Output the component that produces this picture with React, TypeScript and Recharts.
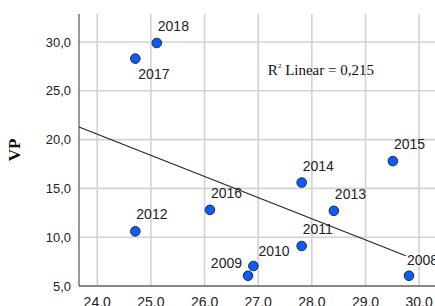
import React from "react";
import {
  ScatterChart,
  Scatter,
  XAxis,
  YAxis,
  CartesianGrid,
  ReferenceLine,
  ReferenceDot,
  LabelList,
} from "recharts";

// ---- data ----
const years = ["2008", "2009", "2010", "2011", "2012", "2013", "2014", "2015", "2016", "2017", "2018"];
const xValues = [29.81, 26.81, 26.91, 27.81, 24.71, 28.41, 27.81, 29.51, 26.1, 24.71, 25.11];
const vpValues = [6.05, 6.05, 7.05, 9.1, 10.6, 12.7, 15.6, 17.8, 12.8, 28.3, 29.9];
const xTicks = [24, 25, 26, 27, 28, 29, 30];
const yTicks = [5, 10, 15, 20, 25, 30];
const fitStart = { x: 23.66, y: 21.3 };
const fitEnd = { x: 29.75, y: 8.1 };
const rSquared = "0,215";
const rSquaredAnchor = { x: 27.18, y: 27.13 };

// label placement style (not data)
const labelPlacement: Record<string, { dx: number; dy: number; anchor: "start" | "end" }> = {
  "2008": { dx: -2, dy: -16, anchor: "start" },
  "2009": { dx: -6, dy: -13, anchor: "end" },
  "2010": { dx: 5, dy: -15, anchor: "start" },
  "2017": { dx: 3, dy: 15, anchor: "start" },
};
const defaultPlacement = { dx: 1, dy: -17, anchor: "start" as const };

const data = years.map((year, i) => ({ year, x: xValues[i], vp: vpValues[i] }));

const fmt = (v: number) => v.toFixed(1).replace(".", ",");

const Dot = (props: any) => {
  const { cx, cy } = props;
  return <circle cx={cx} cy={cy} r={4.8} fill="#0a5cff" stroke="#1b2a44" strokeWidth={1} />;
};

const PointLabel = (props: any) => {
  const { x, y, width, height, value } = props;
  const cx = x + (width || 0) / 2;
  const cy = y + (height || 0) / 2;
  const p = labelPlacement[value] || defaultPlacement;
  return (
    <text
      x={cx + p.dx}
      y={cy + p.dy}
      textAnchor={p.anchor}
      dominantBaseline="central"
      fontFamily="'Liberation Sans', Arial, sans-serif"
      fontSize={14}
      fill="#222"
    >
      {value}
    </text>
  );
};

const RText = (props: any) => {
  const { cx, cy } = props;
  return (
    <text x={cx} y={cy} dominantBaseline="central" fontFamily="'Liberation Serif', 'Times New Roman', serif" fontSize={15} fill="#111">
      R
      <tspan fontSize={7} dy={-4}>2</tspan>
      <tspan dy={4}>{" Linear = " + rSquared}</tspan>
    </text>
  );
};

export default function App() {
  return (
    <div style={{ position: "absolute", left: 0, top: 0, width: 435, height: 306, overflow: "hidden", background: "#fff" }}>
      <ScatterChart width={446} height={320} margin={{ top: 14, right: 0, bottom: 4, left: 0 }}>
        <CartesianGrid stroke="#d2d2d2" strokeWidth={1.6} horizontalValues={yTicks} verticalValues={xTicks} />
        <XAxis
          type="number"
          dataKey="x"
          domain={[23.66, 30.5]}
          ticks={xTicks}
          tickFormatter={fmt}
          allowDataOverflow
          height={30}
          tickLine={false}
          tickMargin={5}
          axisLine={{ stroke: "#333", strokeWidth: 1 }}
          tick={{ fill: "#222", fontSize: 14, fontFamily: "'Liberation Sans', Arial, sans-serif" }}
        />
        <YAxis
          type="number"
          dataKey="vp"
          domain={[5, 32.87]}
          ticks={yTicks}
          tickFormatter={fmt}
          allowDataOverflow
          width={79}
          tickLine={false}
          axisLine={{ stroke: "#333", strokeWidth: 1 }}
          tick={{ fill: "#222", fontSize: 13, fontFamily: "'Liberation Sans', Arial, sans-serif" }}
          label={{
            value: "VP",
            angle: -90,
            position: "insideLeft",
            offset: 14,
            style: { fontFamily: "'Liberation Serif', 'Times New Roman', serif", fontWeight: "bold", fontSize: 17, fill: "#111", textAnchor: "middle" },
          }}
        />
        <ReferenceLine
          segment={[fitStart, fitEnd]}
          stroke="#222"
          strokeWidth={1.1}
          ifOverflow="visible"
        />
        <ReferenceDot x={rSquaredAnchor.x} y={rSquaredAnchor.y} r={0} shape={RText} ifOverflow="visible" />
        <Scatter data={data} shape={Dot} isAnimationActive={false}>
          <LabelList dataKey="year" content={PointLabel} />
        </Scatter>
      </ScatterChart>
    </div>
  );
}
